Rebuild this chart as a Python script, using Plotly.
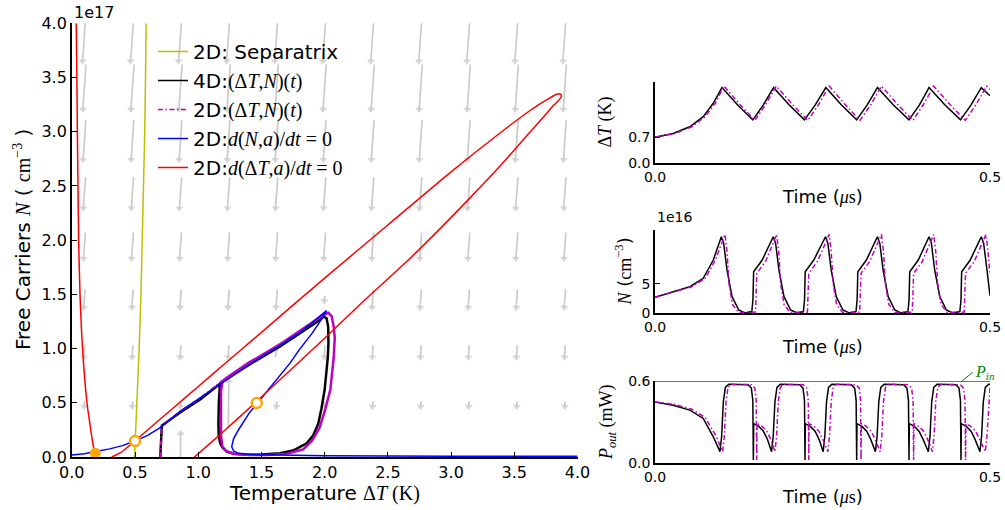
import plotly.graph_objects as go

W, H = 1005, 510
SANS = "DejaVu Sans"
SERIF = "Liberation Serif"


def m(s):
    """Serif (math-style) span inside a label."""
    return f'<span style="font-family:{SERIF}">{s}</span>'


def px(x):
    return x / W


def py(y):
    return 1 - y / H


# ---------------- phase plane: ΔT (K) vs N (1e17 cm^-3) ----------------
# direction field grid and arrow components
FIELD_T = [0.1, 0.48, 0.86, 1.24, 1.62, 2.0, 2.38, 2.76, 3.14, 3.52, 3.9]
FIELD_N = [0.0, 0.4875, 0.975, 1.4625, 1.95, 2.4375, 2.925, 3.4125, 3.9]
FIELD_DT_ROW = [0.0, -0.003, -0.006, -0.010, -0.015, -0.018, -0.022, -0.025, -0.030]
FIELD_DN_ROW = [0.0, -0.046, -0.11, -0.166, -0.24, -0.286, -0.369, -0.415, -0.50]
FIELD_SPECIAL = {(2, 0): (0.0, 0.44), (3, 1): (0.004, 0.43),
                 (4, 2): (0.025, 0.11), (5, 3): (-0.004, -0.046)}

# separatrix
SEP_T = [0.496, 0.515, 0.533, 0.547, 0.557, 0.570, 0.577, 0.583, 0.588]
SEP_N = [0.0, 0.5, 1.0, 1.5, 2.0, 2.5, 3.0, 3.5, 4.0]

# nullcline d(ΔT,a)/dt = 0
RED_T = [0.035, 0.040, 0.044, 0.049, 0.054, 0.065, 0.085, 0.12, 0.15, 0.17, 0.186,
         0.21, 0.25, 0.29, 0.317, 0.383, 0.50, 0.70, 0.90, 1.1, 1.33, 1.5, 2.0, 2.5,
         3.0, 3.4, 3.6, 3.7, 3.78, 3.836, 3.858, 3.87, 3.872, 3.862, 3.835, 3.80,
         3.757, 3.62, 3.4, 3.15, 2.9, 2.66, 2.3, 2.0, 1.7, 1.45, 1.2, 0.97, 0.9]
RED_N = [4.0, 3.5, 3.0, 2.5, 2.0, 1.5, 1.0, 0.5, 0.25, 0.10, 0.03,
         -0.03, -0.06, -0.04, 0.0, 0.037, 0.15, 0.35, 0.55, 0.75, 0.98, 1.15, 1.65, 2.14,
         2.63, 3.0, 3.175, 3.255, 3.31, 3.345, 3.35, 3.34, 3.325, 3.305, 3.27, 3.23,
         3.17, 2.99, 2.70, 2.39, 2.09, 1.815, 1.43, 1.095, 0.77, 0.50, 0.235, 0.0, -0.07]

# nullcline d(N,a)/dt = 0
BLUE_T = [0.0, 0.1, 0.186, 0.3, 0.4, 0.5, 0.6, 0.712, 0.857, 1.015, 1.197, 1.4, 1.647,
          1.8, 1.9, 1.987, 2.015, 2.005, 1.987, 1.9, 1.8, 1.726, 1.6, 1.463, 1.4,
          1.318, 1.28, 1.265, 1.28, 1.318, 1.4, 1.515, 1.7, 2.0, 3.0, 4.0]
BLUE_N = [0.018, 0.03, 0.05, 0.075, 0.105, 0.147, 0.2, 0.28, 0.42, 0.545, 0.69, 0.85, 1.03,
          1.145, 1.24, 1.33, 1.35, 1.33, 1.29, 1.14, 0.99, 0.866, 0.69, 0.497, 0.40,
          0.249, 0.17, 0.095, 0.055, 0.034, 0.025, 0.02, 0.015, 0.012, 0.008, 0.006]

# 4D trajectory: start-up then limit cycle
TR4_T = [0.700, 0.703, 0.708, 0.712, 0.857, 1.015, 1.21, 1.40, 1.647, 1.80, 1.95, 1.99,
         2.015, 2.028, 2.03, 2.025, 2.0, 1.975, 1.95, 1.91, 1.858, 1.75, 1.647, 1.50,
         1.384, 1.28, 1.226, 1.19, 1.173, 1.162, 1.16, 1.163, 1.17, 1.18, 1.21]
TR4_N = [0.0, 0.10, 0.22, 0.29, 0.41, 0.53, 0.71, 0.85, 1.02, 1.135, 1.255, 1.295,
         1.28, 1.20, 1.05, 0.92, 0.62, 0.45, 0.31, 0.20, 0.126, 0.06, 0.034, 0.022,
         0.02, 0.03, 0.05, 0.09, 0.13, 0.20, 0.31, 0.50, 0.64, 0.69, 0.71]

# 2D trajectory: start-up and limit cycle
TR2_START_T = [0.700, 0.704, 0.709, 0.713, 0.857, 1.015, 1.21]
TR2_START_N = [0.0, 0.10, 0.22, 0.29, 0.42, 0.54, 0.72]
TR2_CYC_T = [1.21, 1.40, 1.647, 1.85, 1.99, 2.03, 2.055, 2.072, 2.08, 2.072, 2.045, 2.0,
             1.96, 1.90, 1.83, 1.70, 1.55, 1.40, 1.28, 1.22, 1.19, 1.18, 1.178, 1.18,
             1.19, 1.21]
TR2_CYC_N = [0.72, 0.87, 1.04, 1.20, 1.31, 1.33, 1.30, 1.20, 1.10, 0.92, 0.62, 0.42,
             0.27, 0.15, 0.07, 0.03, 0.018, 0.018, 0.03, 0.055, 0.10, 0.20, 0.40, 0.60,
             0.69, 0.72]

# fixed points
FP_STABLE = (0.186, 0.035)
FP_OPEN_T = [0.5, 1.463]
FP_OPEN_N = [0.147, 0.497]

# ---------------- time traces (t in µs) ----------------
DT4_T = [0.0, 0.027, 0.052, 0.072, 0.087, 0.100, 0.123, 0.146, 0.1615, 0.177, 0.200, 0.223,
         0.239, 0.255, 0.278, 0.301, 0.3165, 0.332, 0.3555, 0.379, 0.3945, 0.409, 0.4325,
         0.456, 0.4715, 0.487, 0.5]
DT4_V = [0.70, 0.80, 0.98, 1.25, 1.61, 2.03, 1.57, 1.165, 1.56, 2.03, 1.57, 1.165,
         1.56, 2.03, 1.57, 1.165, 1.56, 2.03, 1.57, 1.165, 1.56, 2.03, 1.57,
         1.165, 1.56, 2.03, 1.81]
DT2_T = [0.0, 0.030, 0.055, 0.075, 0.090, 0.103, 0.126, 0.149, 0.165, 0.181, 0.2045, 0.228,
         0.244, 0.260, 0.283, 0.306, 0.322, 0.338, 0.3615, 0.385, 0.4005, 0.416, 0.4395,
         0.463, 0.479, 0.495, 0.5]
DT2_V = [0.70, 0.80, 0.98, 1.25, 1.61, 2.07, 1.59, 1.15, 1.57, 2.07, 1.59, 1.15,
         1.57, 2.07, 1.59, 1.15, 1.57, 2.07, 1.59, 1.15, 1.57, 2.07, 1.59,
         1.15, 1.57, 2.07, 1.98]

# N in units of 1e16 cm^-3
N4_T = [0.0, 0.027, 0.052, 0.072, 0.087, 0.099,
        0.1025, 0.1075, 0.115, 0.125, 0.134, 0.1445, 0.1462, 0.1472, 0.160, 0.1765,
        0.180, 0.185, 0.1925, 0.2025, 0.2115, 0.2215, 0.2232, 0.2242, 0.237, 0.2545,
        0.258, 0.263, 0.2705, 0.2805, 0.2895, 0.300, 0.3017, 0.3027, 0.3155, 0.332,
        0.3355, 0.3405, 0.348, 0.358, 0.367, 0.3775, 0.3792, 0.3802, 0.393, 0.409,
        0.4125, 0.4175, 0.425, 0.435, 0.444, 0.455, 0.4567, 0.4577, 0.4705, 0.487,
        0.4905, 0.4955, 0.5]
N4_V = [2.72, 3.67, 4.52, 5.94, 9.05, 13.0,
        11.9, 7.35, 2.82, 0.56, 0.05, 0.3, 2.3, 7.06, 9.05, 13.0,
        11.9, 7.35, 2.82, 0.56, 0.05, 0.3, 2.3, 7.06, 9.05, 13.0,
        11.9, 7.35, 2.82, 0.56, 0.05, 0.3, 2.3, 7.06, 9.05, 13.0,
        11.9, 7.35, 2.82, 0.56, 0.05, 0.3, 2.3, 7.06, 9.05, 13.0,
        11.9, 7.35, 2.82, 0.56, 0.05, 0.3, 2.3, 7.06, 9.05, 13.0,
        11.9, 7.35, 3.0]
N2_T = [0.0, 0.030, 0.055, 0.075, 0.090, 0.1045,
        0.1075, 0.1105, 0.1155, 0.1245, 0.150, 0.152, 0.165, 0.1816,
        0.1846, 0.1876, 0.1926, 0.2016, 0.2275, 0.2295, 0.2425, 0.260,
        0.263, 0.266, 0.271, 0.280, 0.3055, 0.3075, 0.3205, 0.338,
        0.341, 0.344, 0.349, 0.358, 0.384, 0.386, 0.399, 0.416,
        0.419, 0.422, 0.427, 0.436, 0.4615, 0.4635, 0.4765, 0.494,
        0.497, 0.5]
N2_V = [2.72, 3.67, 4.52, 5.94, 9.05, 13.4,
        10.5, 5.0, 1.5, 0.15, 0.2, 6.8, 8.8, 13.4,
        10.5, 5.0, 1.5, 0.15, 0.2, 6.8, 8.8, 13.4,
        10.5, 5.0, 1.5, 0.15, 0.2, 6.8, 8.8, 13.4,
        10.5, 5.0, 1.5, 0.15, 0.2, 6.8, 8.8, 13.4,
        10.5, 5.0, 1.5, 0.15, 0.2, 6.8, 8.8, 13.4,
        10.5, 6.5]

# output power (mW)
P_IN = 0.6
P4_T = [0.0, 0.027, 0.052, 0.072, 0.087, 0.097,
        0.0995, 0.102, 0.105, 0.110, 0.139, 0.1438, 0.146, 0.1468, 0.1473, 0.1548, 0.1618, 0.1678, 0.174,
        0.1765, 0.179, 0.182, 0.187, 0.216, 0.2209, 0.2231, 0.2239, 0.2244, 0.2319, 0.2389, 0.2449, 0.251,
        0.2535, 0.256, 0.259, 0.264, 0.293, 0.298, 0.3002, 0.301, 0.3015, 0.309, 0.316, 0.322, 0.329,
        0.3315, 0.334, 0.337, 0.342, 0.371, 0.3761, 0.3783, 0.3791, 0.3796, 0.3871, 0.3941, 0.4001, 0.408,
        0.4105, 0.413, 0.416, 0.421, 0.449, 0.4537, 0.4559, 0.4567, 0.4572, 0.4647, 0.4717, 0.4777, 0.485,
        0.4875, 0.490, 0.493, 0.498, 0.5]
P4_V = [0.449, 0.425, 0.389, 0.328, 0.194, 0.085,
        0.2, 0.45, 0.555, 0.578, 0.575, 0.55, 0.46, 0.024, 0.29, 0.27, 0.235, 0.175, 0.085,
        0.2, 0.45, 0.555, 0.578, 0.575, 0.55, 0.46, 0.024, 0.29, 0.27, 0.235, 0.175, 0.085,
        0.2, 0.45, 0.555, 0.578, 0.575, 0.55, 0.46, 0.024, 0.29, 0.27, 0.235, 0.175, 0.085,
        0.2, 0.45, 0.555, 0.578, 0.575, 0.55, 0.46, 0.024, 0.29, 0.27, 0.235, 0.175, 0.085,
        0.2, 0.45, 0.555, 0.578, 0.575, 0.55, 0.46, 0.024, 0.29, 0.27, 0.235, 0.175, 0.085,
        0.2, 0.45, 0.555, 0.578, 0.578]
P2_T = [0.0, 0.030, 0.055, 0.075, 0.091, 0.101,
        0.1035, 0.106, 0.109, 0.114, 0.144, 0.149, 0.151, 0.1518, 0.1523, 0.1598, 0.1668, 0.1728, 0.179,
        0.1815, 0.184, 0.187, 0.192, 0.2215, 0.2265, 0.2287, 0.2295, 0.230, 0.2375, 0.2445, 0.2505, 0.258,
        0.2605, 0.263, 0.266, 0.271, 0.300, 0.305, 0.3067, 0.3075, 0.308, 0.3155, 0.3225, 0.3285, 0.336,
        0.3385, 0.341, 0.344, 0.349, 0.378, 0.383, 0.3852, 0.386, 0.3865, 0.394, 0.401, 0.407, 0.414,
        0.4165, 0.419, 0.422, 0.427, 0.4555, 0.4605, 0.4627, 0.4635, 0.464, 0.4715, 0.4785, 0.4845, 0.493,
        0.4955, 0.498, 0.5]
P2_V = [0.449, 0.43, 0.395, 0.335, 0.2, 0.085,
        0.2, 0.45, 0.555, 0.578, 0.575, 0.55, 0.46, 0.024, 0.29, 0.27, 0.235, 0.175, 0.085,
        0.2, 0.45, 0.555, 0.578, 0.575, 0.55, 0.46, 0.024, 0.29, 0.27, 0.235, 0.175, 0.085,
        0.2, 0.45, 0.555, 0.578, 0.575, 0.55, 0.46, 0.024, 0.29, 0.27, 0.235, 0.175, 0.085,
        0.2, 0.45, 0.555, 0.578, 0.575, 0.55, 0.46, 0.024, 0.29, 0.27, 0.235, 0.175, 0.085,
        0.2, 0.45, 0.555, 0.578, 0.575, 0.55, 0.46, 0.024, 0.29, 0.27, 0.235, 0.175, 0.085,
        0.2, 0.45, 0.555]

YELLOW = "#bfbf00"
MAGENTA = "#bf00bf"
ORANGE = "#ffa500"
ARROW = "#c8c8c8"
DASHDOT = "5px,2.5px,1.5px,2.5px"

fig = go.Figure()

# ---- direction field (arrows pivot on their grid point) ----
qx, qy, qs = [], [], []
for j, n in enumerate(FIELD_N):
    for i, t in enumerate(FIELD_T):
        du, dv = FIELD_SPECIAL.get((i, j), (FIELD_DT_ROW[j], FIELD_DN_ROW[j]))
        if du == 0 and dv == 0:
            continue
        qx += [t - du / 2, t + du / 2, None]
        qy += [n - dv / 2, n + dv / 2, None]
        qs += [0, 7, 0]
fig.add_trace(go.Scatter(
    x=qx, y=qy, mode="lines+markers", showlegend=False, hoverinfo="skip",
    line=dict(color=ARROW, width=1.6),
    marker=dict(symbol="triangle-up", size=qs, angleref="previous", color=ARROW,
                line=dict(width=0)),
    xaxis="x", yaxis="y"))

fig.add_trace(go.Scatter(x=SEP_T, y=SEP_N, mode="lines", name="2D: Separatrix",
                         line=dict(color=YELLOW, width=1.5), legendgroup="a"))
fig.add_trace(go.Scatter(x=[None], y=[None], mode="lines",
                         name="4D:" + m("(Δ<i>T</i>,<i>N</i>)(<i>t</i>)"),
                         line=dict(color="black", width=1.5), legendgroup="b"))
fig.add_trace(go.Scatter(x=TR4_T, y=TR4_N, mode="lines", showlegend=False,
                         line=dict(color="black", width=2.5)))
fig.add_trace(go.Scatter(x=[None], y=[None], mode="lines",
                         name="2D:" + m("(Δ<i>T</i>,<i>N</i>)(<i>t</i>)"),
                         line=dict(color=MAGENTA, width=1.5, dash=DASHDOT), legendgroup="c"))
fig.add_trace(go.Scatter(x=TR2_START_T, y=TR2_START_N, mode="lines", showlegend=False,
                         line=dict(color=MAGENTA, width=2, dash=DASHDOT)))
fig.add_trace(go.Scatter(x=TR2_CYC_T, y=TR2_CYC_N, mode="lines", showlegend=False,
                         line=dict(color=MAGENTA, width=2.5)))
fig.add_trace(go.Scatter(x=BLUE_T, y=BLUE_N, mode="lines",
                         name="2D:" + m("<i>d</i>(<i>N</i>,<i>a</i>)/<i>dt</i> = 0"),
                         line=dict(color="#0000ff", width=1.5), legendgroup="d"))
fig.add_trace(go.Scatter(x=RED_T, y=RED_N, mode="lines",
                         name="2D:" + m("<i>d</i>(Δ<i>T</i>,<i>a</i>)/<i>dt</i> = 0"),
                         line=dict(color="#ff0000", width=1.5, shape="spline", smoothing=0.6),
                         legendgroup="e"))
fig.add_trace(go.Scatter(x=[FP_STABLE[0]], y=[FP_STABLE[1]], mode="markers", showlegend=False,
                         marker=dict(size=11, color=ORANGE, line=dict(width=0))))
fig.add_trace(go.Scatter(x=FP_OPEN_T, y=FP_OPEN_N, mode="markers", showlegend=False,
                         marker=dict(size=10, color="white", line=dict(width=2.5, color=ORANGE))))

# ---- time traces ----
for ax, (t4, v4, t2, v2) in zip(
        ["2", "3", "4"],
        [(DT4_T, DT4_V, DT2_T, DT2_V), (N4_T, N4_V, N2_T, N2_V), (P4_T, P4_V, P2_T, P2_V)]):
    fig.add_trace(go.Scatter(x=t4, y=v4, mode="lines", showlegend=False,
                             line=dict(color="black", width=1.5),
                             xaxis="x" + ax, yaxis="y" + ax))
    fig.add_trace(go.Scatter(x=t2, y=v2, mode="lines", showlegend=False,
                             line=dict(color=MAGENTA, width=1.5, dash=DASHDOT),
                             xaxis="x" + ax, yaxis="y" + ax))
fig.add_trace(go.Scatter(x=[0, 0.5], y=[P_IN, P_IN], mode="lines", showlegend=False,
                         line=dict(color="#008000", width=1), xaxis="x4", yaxis="y4"))

axis_common = dict(showline=True, linecolor="black", linewidth=1.5, ticks="inside",
                   ticklen=5, tickwidth=1, tickcolor="black", showgrid=False,
                   zeroline=False, mirror=False, automargin=False)

ticks_main = [0, 0.5, 1, 1.5, 2, 2.5, 3, 3.5, 4]
lbl_main = [f"{v:.1f}" for v in ticks_main]

fig.update_layout(
    width=W, height=H, margin=dict(l=0, r=0, t=0, b=0, autoexpand=False),
    paper_bgcolor="white", plot_bgcolor="white",
    font=dict(family=SANS, size=16, color="black"),
    xaxis=dict(domain=[px(71.8), px(577.5)], range=[0, 4], tickvals=ticks_main,
               ticktext=lbl_main, tickfont=dict(size=16), anchor="y", **axis_common),
    yaxis=dict(domain=[py(457), py(23.3)], range=[0, 4], tickvals=ticks_main,
               ticktext=lbl_main, tickfont=dict(size=16), anchor="x", **axis_common),
    xaxis2=dict(domain=[px(655), px(990)], range=[0, 0.5], tickvals=[0, 0.5],
                ticktext=["0.0", "0.5"], tickfont=dict(size=14), anchor="y2", **axis_common),
    yaxis2=dict(domain=[py(163.3), py(82)], range=[0, 2.18], tickvals=[0, 0.7],
                ticktext=["0.0", "0.7"], tickfont=dict(size=14), anchor="x2", **axis_common),
    xaxis3=dict(domain=[px(655), px(990)], range=[0, 0.5], tickvals=[0, 0.5],
                ticktext=["0.0", "0.5"], tickfont=dict(size=14), anchor="y3", **axis_common),
    yaxis3=dict(domain=[py(313.3), py(230)], range=[0, 14.15], tickvals=[0, 5],
                ticktext=["0", "5"], tickfont=dict(size=14), anchor="x3", **axis_common),
    xaxis4=dict(domain=[px(655), px(990)], range=[0, 0.5], tickvals=[0, 0.5],
                ticktext=["0.0", "0.5"], tickfont=dict(size=14), anchor="y4", **axis_common),
    yaxis4=dict(domain=[py(463.3), py(381)], range=[0, 0.602], tickvals=[0, 0.6],
                ticktext=["0.0", "0.6"], tickfont=dict(size=14), anchor="x4", **axis_common),
    legend=dict(x=px(153), y=py(32), xanchor="left", yanchor="top",
                bgcolor="rgba(0,0,0,0)", font=dict(size=20), tracegroupgap=0,
                itemwidth=30),
)

ann = []


def label(text, x, y, size, angle=0, xanchor="center", color="black"):
    ann.append(dict(text=text, x=px(x), y=py(y), xref="paper", yref="paper",
                    showarrow=False, textangle=angle, xanchor=xanchor, yanchor="middle",
                    font=dict(size=size, color=color)))


label("1e17", 72, 12, 16, xanchor="left")
label("1e16", 655, 217, 14, xanchor="left")
label("Temperature " + m("Δ<i>T</i> (K)"), 324.6, 493, 20)
label("Free Carriers " + m("<i>N</i>") + " ( " + m("cm<sup>−3</sup>") + " )", 22, 240, 20, angle=-90)
label(m("Δ<i>T</i> (K)"), 605, 122.5, 18, angle=-90)
label(m("<i>N</i>") + " (" + m("cm<sup>−3</sup>") + ")", 624, 271.5, 18, angle=-90)
label(m("<i>P<sub>out</sub></i> (mW)"), 607, 422, 18, angle=-90)
for yy in (196.7, 346.7, 496.7):
    label("Time (" + m("<i>μ</i>s") + ")", 822.5, yy, 18)

ann.append(dict(text=m("<i>P<sub>in</sub></i>"), x=0.4578, y=P_IN, xref="x4", yref="y4",
                showarrow=True, arrowhead=0, arrowwidth=1, arrowcolor="#008000",
                ax=11, ay=-9, xanchor="left", font=dict(size=16, color="#008000")))

fig.update_layout(annotations=ann)
fig.write_html("out.html")
